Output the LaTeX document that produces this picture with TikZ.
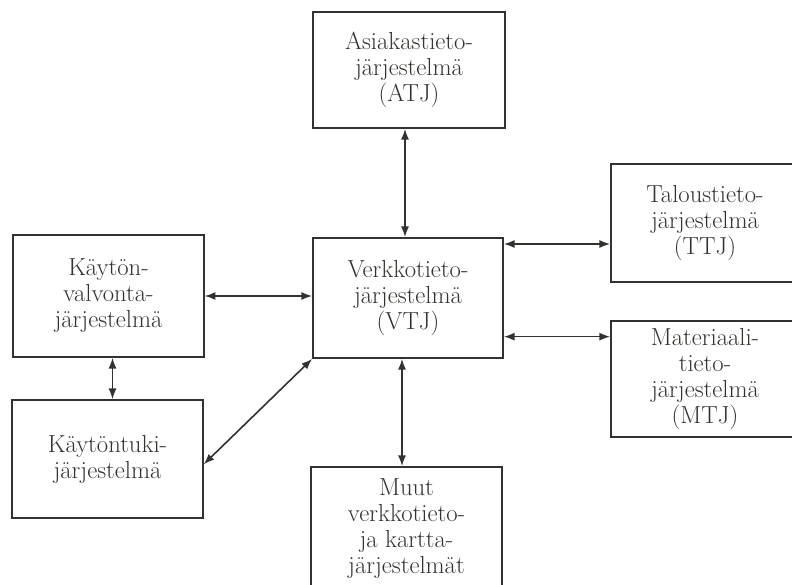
\documentclass[tikz,border=0pt]{standalone}
\usepackage{amsmath}
\usepackage{tikz}
\usetikzlibrary{arrows.meta}

\definecolor{ink}{RGB}{50,50,46}

\begin{document}
\begin{tikzpicture}[x=0.75pt,y=0.75pt,yscale=-1,xscale=1,
  sysbox/.style={draw=ink,line width=1.3pt,text=ink,align=center,inner sep=0pt,
    font=\fontsize{18.5}{19.5}\selectfont},
  link/.style={draw=ink,line width=1.2pt,{Latex[length=8pt,width=6pt]}-{Latex[length=8pt,width=6pt]}}]
%set diagram to 792 x 585
\useasboundingbox (0,0) rectangle (792,585);
\clip (0,0) rectangle (792,585);
%Shape: Rectangle ATJ
\node [sysbox,minimum width=144pt,minimum height=87pt] (atj) at (409,70) {Asiakastieto-\\järjestelmä\\(ATJ)};
%Shape: Rectangle VTJ
\node [sysbox,minimum width=142.5pt,minimum height=90pt] (vtj) at (408,298) {Verkkotieto-\\järjestelmä\\(VTJ)};
%Shape: Rectangle TTJ
\node [sysbox,minimum width=141pt,minimum height=89pt] (ttj) at (705,223) {Taloustieto-\\järjestelmä\\(TTJ)};
%Shape: Rectangle MTJ
\node [sysbox,minimum width=141pt,minimum height=87pt] (mtj) at (705,379) {Materiaali-\\tieto-\\järjestelmä\\(MTJ)};
%Shape: Rectangle kaytonvalvonta
\node [sysbox,minimum width=143pt,minimum height=91.5pt] (kvj) at (108.5,296) {Käytön-\\valvonta-\\järjestelmä};
%Shape: Rectangle kaytontuki
\node [sysbox,minimum width=143pt,minimum height=88.5pt] (ktj) at (107.5,459) {Käytöntuki-\\järjestelmä};
%Shape: Rectangle muut
\node [sysbox,minimum width=143pt,minimum height=93pt] (muut) at (406.5,529) {Muut\\verkkotieto-\\ja kartta-\\järjestelmät};

%Straight Lines
\draw [link] ([xshift=-3pt]atj.south) -- ([xshift=-3pt]atj.south |- vtj.north) ;
\draw [link] (kvj.east) -- (kvj.east -| vtj.west) ;
\draw [link] ([yshift=29pt]vtj.east) -- ([yshift=29pt]vtj.east -| ttj.west) ;
\draw [link] ([yshift=-40.5pt]vtj.east) -- ([yshift=-40.5pt]vtj.east -| mtj.west) ;
\draw [link] ([xshift=3pt]kvj.south) -- ([xshift=3pt]kvj.south |- ktj.north) ;
\draw [link] (vtj.south west) -- ([yshift=4pt]ktj.east) ;
\draw [link] ([xshift=-4.5pt]vtj.south) -- ([xshift=-4.5pt]vtj.south |- muut.north) ;

\end{tikzpicture}
\end{document}
